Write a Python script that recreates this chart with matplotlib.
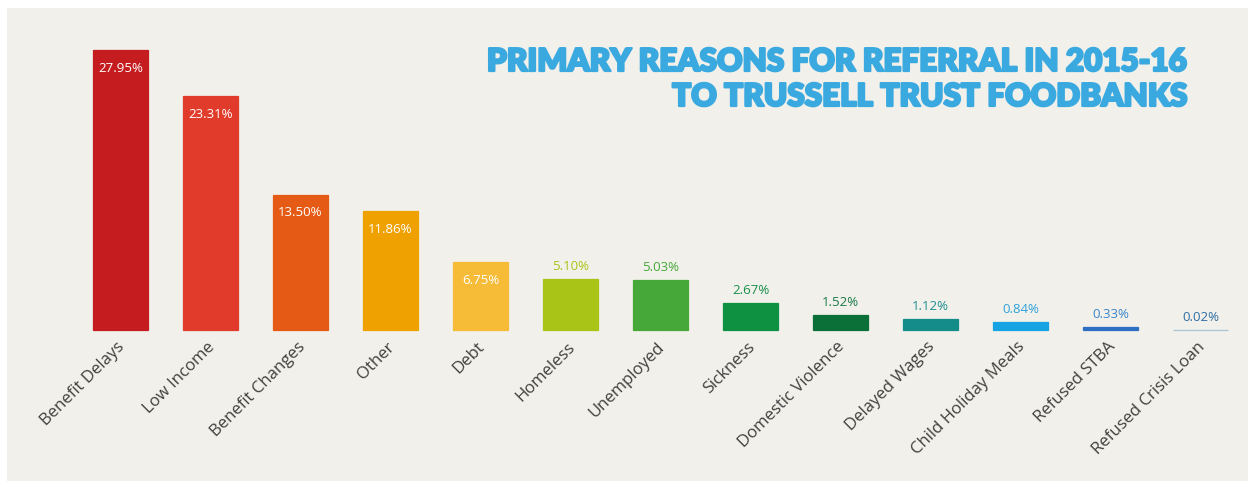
import matplotlib.pyplot as plt
from matplotlib.patches import Rectangle
import matplotlib.patheffects as pe

reasons = ['Benefit Delays', 'Low Income', 'Benefit Changes', 'Other', 'Debt',
           'Homeless', 'Unemployed', 'Sickness', 'Domestic Violence',
           'Delayed Wages', 'Child Holiday Meals', 'Refused STBA',
           'Refused Crisis Loan']
share = [27.95, 23.31, 13.50, 11.86, 6.75, 5.10, 5.03, 2.67, 1.52, 1.12, 0.84, 0.33, 0.02]

bar_colors = ['#c41c1f', '#e13b2c', '#e55b15', '#f0a102', '#f6bb37', '#a9c416',
              '#46a838', '#0f9142', '#0b7038', '#138c8a', '#16a3e3', '#2d6fc2',
              '#a8c4d6']
label_colors = ['white'] * 5 + ['#a9c416', '#46a838', '#1a8f4a', '#1a7a48',
                                '#1f9090', '#2ea2dc', '#3a85cc', '#2f6ea3']

W, H = 1248, 483
fig = plt.figure(figsize=(W / 100, H / 100), dpi=100)
fig.patch.set_facecolor('white')
fig.patches.append(Rectangle((7 / W, 2 / H), 1241 / W, 473 / H, transform=fig.transFigure,
                             facecolor='#f1f0ea', edgecolor='none', zorder=-5))

# bar centres at 120 + 90*i px, baseline at y=330 px, top of first bar at y=50
px_per_unit = 280 / 27.95
ax = fig.add_axes([75.5 / W, 153 / H, 1170 / W, 280 / H])
ax.set_zorder(2)
ax.set_xlim(-0.5, 12.5)
ax.set_ylim(0, 27.95)
ax.axis('off')

x = list(range(len(reasons)))
ax.bar(x, share, width=0.61, color=bar_colors, edgecolor=bar_colors,
       linewidth=0.9, zorder=2, clip_on=False)

for i, v in enumerate(share):
    txt = '%.2f%%' % v
    if i < 5:
        ax.text(i, v - 18 / px_per_unit, txt, ha='center', va='center',
                color='white', fontsize=9.5, family='Open Sans')
    else:
        ax.text(i, v + 6 / px_per_unit, txt, ha='center', va='bottom',
                color=label_colors[i], fontsize=9.5, family='Open Sans')
    ax.text(i - 0.04, -9 / px_per_unit, reasons[i], ha='right', va='top',
            rotation=45, rotation_mode='anchor', color='#404040',
            fontsize=12.1, family='Open Sans', clip_on=False)

title_fx = [pe.withStroke(linewidth=1.6, foreground='#3aa9e0')]
fig.text(1187 / W, (H - 62) / H, 'PRIMARY REASONS FOR REFERRAL IN 2015-16',
         ha='right', va='center', color='#3aa9e0', fontsize=22.6,
         family='Lato', fontweight='heavy', path_effects=title_fx, zorder=3)
fig.text(1187 / W, (H - 97) / H, 'TO TRUSSELL TRUST FOODBANKS',
         ha='right', va='center', color='#3aa9e0', fontsize=22.6,
         family='Lato', fontweight='heavy', path_effects=title_fx, zorder=3)

fig.savefig('out.png', dpi=100, facecolor=fig.get_facecolor())
